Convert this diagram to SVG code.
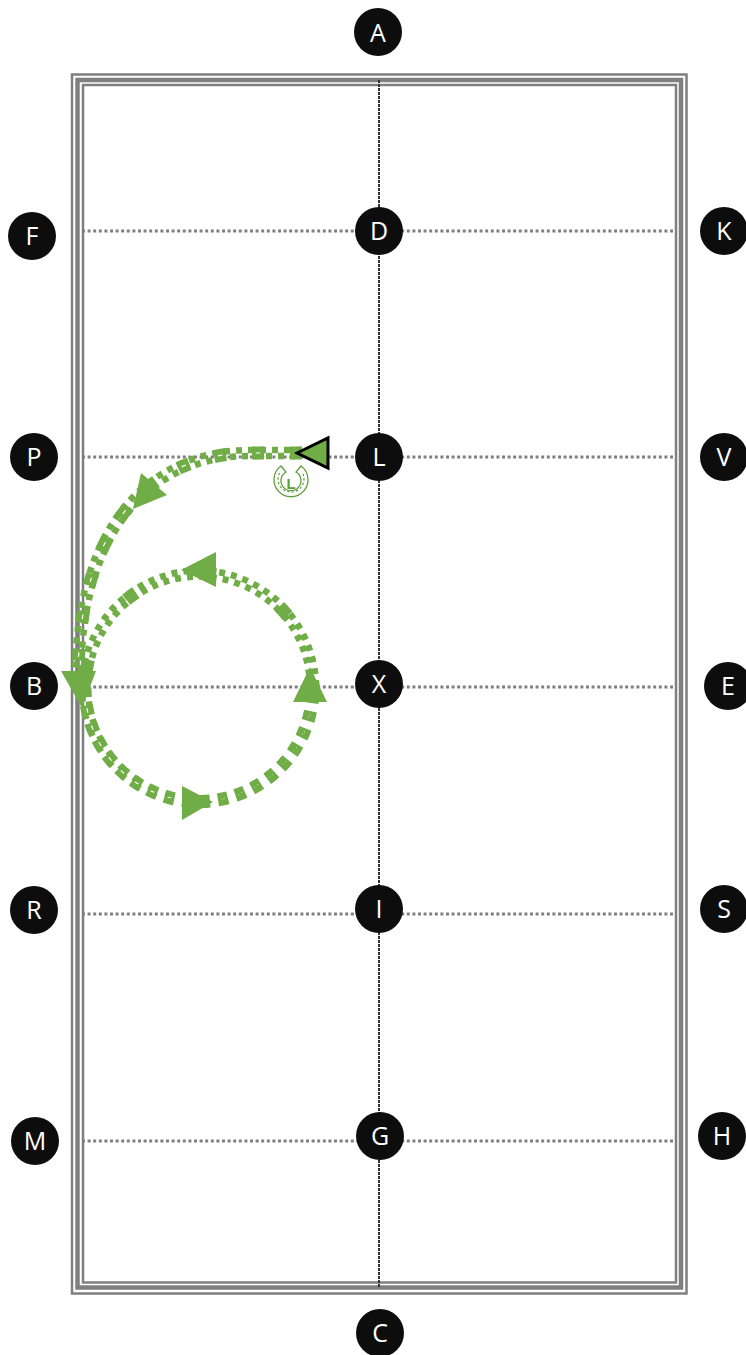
<svg xmlns="http://www.w3.org/2000/svg" width="746" height="1355" viewBox="0 0 746 1355">
<style>
.n{fill:#0d0d0d}
.t{fill:#fff;font-family:"Open Sans","Liberation Sans",sans-serif;font-size:25px;font-weight:500;text-anchor:middle}
.b{fill:none;stroke:#7f7f7f}
.h{fill:none;stroke:#7f7f7f;stroke-width:3;stroke-dasharray:3 2.6}
.g{fill:none;stroke:#70ad47}
.c{stroke-width:6.500;stroke-dasharray:6 6}
.c2{stroke-width:6.500;stroke-dasharray:6 6;stroke-dashoffset:6}
.bd{stroke-width:13;stroke-dasharray:12 26}
.w{fill:none;stroke:#fff;stroke-width:1.200;stroke-dasharray:4.500 33.500;stroke-dashoffset:-3.750}
.bl{stroke-width:13;stroke-dasharray:10 8}
.bw{fill:none;stroke:#fff;stroke-width:1.200;stroke-dasharray:4.500 13.500;stroke-dashoffset:-2.750}
.s1{stroke-width:6.500;stroke-dasharray:4 14;stroke-dashoffset:-10}
.s2{stroke-width:6.500;stroke-dasharray:4 14;stroke-dashoffset:-14}
.a{fill:#70ad47}
</style>
<rect width="746" height="1355" fill="#fff"/>
<g id="arena">
<rect class="b" x="72" y="74.500" width="614.500" height="1219" stroke-width="2.500"/>
<rect class="b" x="77.500" y="80" width="603.500" height="1207.500" stroke-width="4.500"/>
<rect class="b" x="83" y="85" width="593" height="1197.500" stroke-width="2.500"/>
</g>
<g id="connectors">
<path class="h" d="M82 231H675M82 457H675M82 687H675M82 914H675M82 1141H675"/>
<path d="M379 80V1288" fill="none" stroke="#333" stroke-width="2" stroke-dasharray="3 1"/>
</g>
<g id="route">
<path class="g c" d="M302 450H250C162.500 450 75 508 75 680"/>
<path class="g c2" d="M302 456H250C167.500 456 81 512 81 680"/>
<path class="g bd" d="M302 453H250C165 453 78 510 78 680"/>
<path class="w" d="M302 453H250C165 453 78 510 78 680"/>
<path class="g c" d="M82 687.500A117 117 0 0 1 316 687.500"/>
<path class="g c2" d="M88 687.500A111 111 0 0 1 310 687.500"/>
<path class="g" stroke-width="13" stroke-dasharray="12 72" stroke-dashoffset="-16" d="M85 687.500A114 114 0 0 1 313 687.500"/>
<path class="g bl" d="M85 687.500A114 114 0 0 0 313 687.500"/>
<path class="bw" d="M85 687.500A114 114 0 0 0 313 687.500"/>
<path class="g s1" d="M82 687.500A117 117 0 0 0 316 687.500"/>
<path class="g s2" d="M88 687.500A111 111 0 0 0 310 687.500"/>
<polygon class="a" points="141,473 167,495 133,509"/>
<polygon class="a" points="181,570 216,552 216,587"/>
<polygon class="a" points="61,671 96,671 82,708"/>
<polygon class="a" points="182,786 213,802 182,820"/>
<polygon class="a" points="310,667 327,702 293,702"/>
<polygon class="a" stroke="#000" stroke-width="3" points="297,453 328,438 328,468"/>
</g>
<g id="horseshoe" fill="none" stroke="#5f9e3c">
<path stroke-width="1.300" d="M281 466A17 17 0 1 0 301 466L296 472A10 10 0 1 1 286 472Z"/>
<path stroke-width="1.200" stroke-dasharray="2.500 2" d="M279.500 473A13 13 0 1 0 302.500 473"/>
<text x="291" y="488.500" fill="#5f9e3c" stroke="none" font-family="'Liberation Sans',sans-serif" font-size="15" font-weight="bold" text-anchor="middle">L</text>
</g>
<g id="A"><circle class="n" cx="378" cy="32" r="24"/><text class="t" x="378" y="41.500">A</text></g>
<g id="D"><circle class="n" cx="379" cy="231" r="24"/><text class="t" x="379" y="240">D</text></g>
<g id="L"><circle class="n" cx="379" cy="457" r="24"/><text class="t" x="379" y="466">L</text></g>
<g id="X"><circle class="n" cx="379" cy="684" r="24"/><text class="t" x="379" y="693">X</text></g>
<g id="I"><circle class="n" cx="379" cy="909" r="24"/><text class="t" x="379" y="918">I</text></g>
<g id="G"><circle class="n" cx="380" cy="1136" r="24"/><text class="t" x="380" y="1145">G</text></g>
<g id="C"><circle class="n" cx="380" cy="1333" r="24"/><text class="t" x="380" y="1342">C</text></g>
<g id="F"><circle class="n" cx="32" cy="236" r="24"/><text class="t" x="32" y="245">F</text></g>
<g id="P"><circle class="n" cx="34" cy="457" r="24"/><text class="t" x="34" y="466">P</text></g>
<g id="B"><circle class="n" cx="34" cy="686" r="24"/><text class="t" x="34" y="695">B</text></g>
<g id="R"><circle class="n" cx="34" cy="910" r="24"/><text class="t" x="34" y="919">R</text></g>
<g id="M"><circle class="n" cx="35" cy="1141" r="24"/><text class="t" x="35" y="1150">M</text></g>
<g id="K"><circle class="n" cx="724" cy="231" r="24"/><text class="t" x="724" y="240">K</text></g>
<g id="V"><circle class="n" cx="724" cy="457" r="24"/><text class="t" x="724" y="466">V</text></g>
<g id="E"><circle class="n" cx="728" cy="686" r="24"/><text class="t" x="728" y="695">E</text></g>
<g id="S"><circle class="n" cx="724" cy="909" r="24"/><text class="t" x="724" y="918">S</text></g>
<g id="H"><circle class="n" cx="722" cy="1136" r="24"/><text class="t" x="722" y="1145">H</text></g>
</svg>
